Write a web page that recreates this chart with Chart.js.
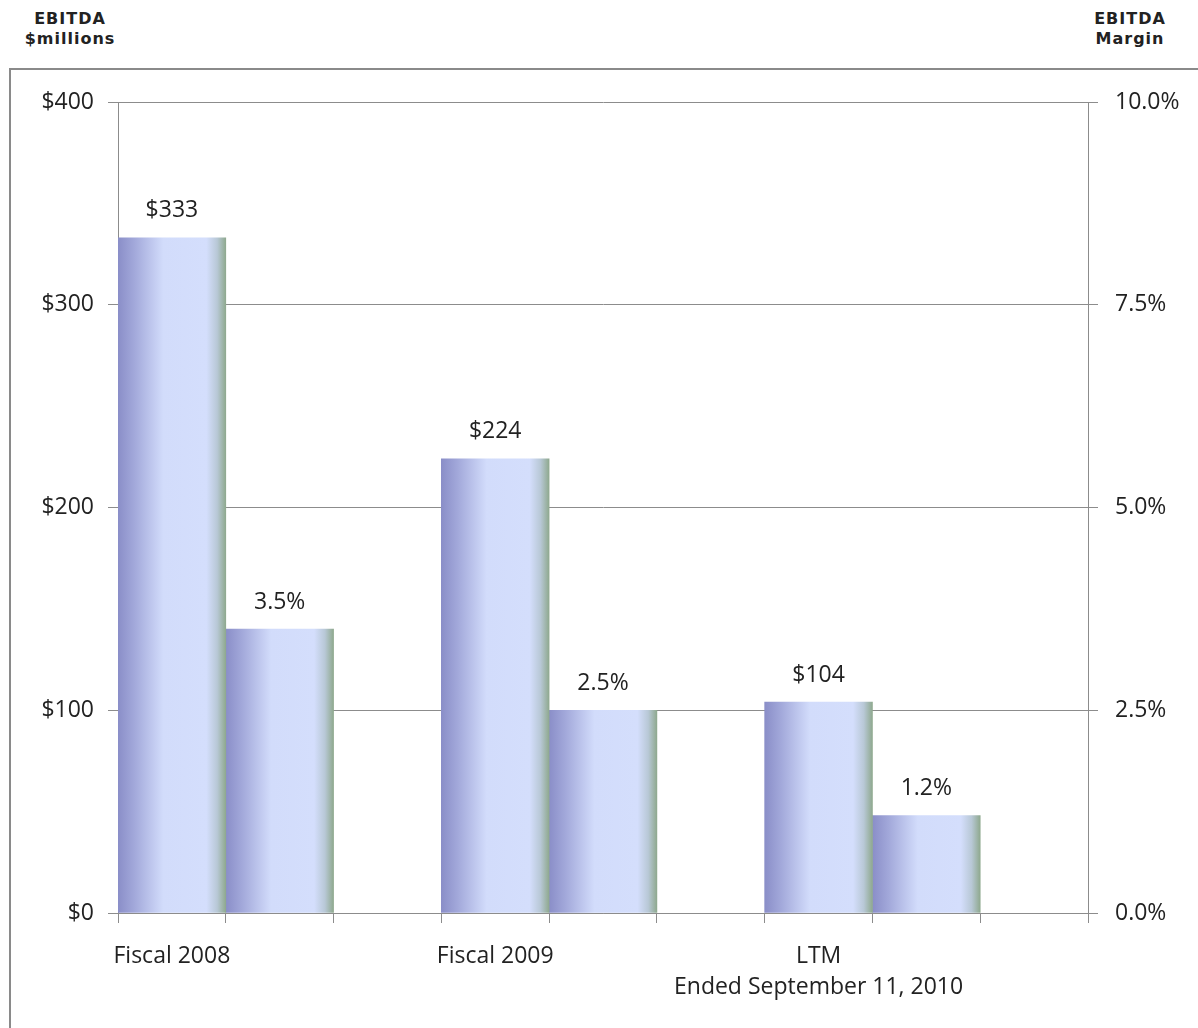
<!DOCTYPE html>
<html>
<head>
<meta charset="utf-8">
<script src="https://cdn.jsdelivr.net/npm/chart.js"></script>
<style>
    html, body { margin: 0; padding: 0; background: #fff; }
    #wrap { position: relative; width: 1198px; height: 1028px; overflow: hidden; }
    #frame { position: absolute; left: 9px; top: 68px; width: 1200px; height: 980px;
             border-top: 2px solid #8a8a8a; border-left: 2px solid #8a8a8a; }
    .head { position: absolute; top: 9px; font: bold 16px "DejaVu Sans", sans-serif;
            color: #222; text-align: center; line-height: 20px; letter-spacing: 1px; }
    canvas { position: absolute; left: 0; top: 0; }
</style>
</head>
<body>
<div id="wrap">
    <div id="frame"></div>
    <div class="head" style="left:10px;width:120px;">EBITDA<br>$millions</div>
    <div class="head" style="left:1070px;width:120px;">EBITDA<br>Margin</div>
    <canvas id="chart" width="1198" height="1028"></canvas>
</div>
<script>
const categories = ["Fiscal 2008", "Fiscal 2009", ["LTM", "Ended September 11, 2010"]];
const ebitda = [333, 224, 104];
const margin = [3.5, 2.5, 1.2];

const leftMax = 400, leftStep = 100;
const rightMax = 10, rightStep = 2.5;

// each category takes 3 slots: EBITDA bar, margin bar, empty gap
const slotLabels = [];
const ebitdaSlots = [];
const marginSlots = [];
categories.forEach((c, i) => {
    slotLabels.push(c, "", "");
    ebitdaSlots.push(ebitda[i], null, null);
    marginSlots.push(null, margin[i], null);
});

const FONT = "'Open Sans', 'Liberation Sans', sans-serif";
const FSIZE = 23;
const GRID = "#8c8c8c";

function barFill(ctx) {
    const chart = ctx.chart;
    const xs = chart.scales.x;
    if (!chart.chartArea || !xs) return "#c0c8f0";
    const cx = xs.getPixelForValue(ctx.dataIndex);
    const w = xs.width / slotLabels.length;
    const g = chart.ctx.createLinearGradient(cx - w / 2, 0, cx + w / 2, 0);
    g.addColorStop(0, "#8a8ec8");
    g.addColorStop(0.15, "#a2a8da");
    g.addColorStop(0.42, "#d2dcfb");
    g.addColorStop(0.82, "#d4defc");
    g.addColorStop(0.92, "#b8c8d6");
    g.addColorStop(1, "#8fa98f");
    return g;
}

const valueLabels = {
    id: "valueLabels",
    afterDatasetsDraw(chart) {
        const c = chart.ctx;
        c.save();
        c.font = FSIZE + "px " + FONT;
        c.fillStyle = "#222";
        c.textAlign = "center";
        c.textBaseline = "middle";
        chart.data.datasets.forEach((ds, di) => {
            chart.getDatasetMeta(di).data.forEach((bar, i) => {
                const v = ds.data[i];
                if (v == null) return;
                const txt = di === 0 ? "$" + v : v.toFixed(1) + "%";
                c.fillText(txt, bar.x, bar.y - 27);
            });
        });
        c.restore();
    }
};

new Chart(document.getElementById("chart"), {
    type: "bar",
    data: {
        labels: slotLabels,
        datasets: [
            { label: "EBITDA", data: ebitdaSlots, yAxisID: "y", backgroundColor: barFill,
              grouped: false, barPercentage: 1, categoryPercentage: 1, borderWidth: 0 },
            { label: "EBITDA Margin", data: marginSlots, yAxisID: "y1", backgroundColor: barFill,
              grouped: false, barPercentage: 1, categoryPercentage: 1, borderWidth: 0 }
        ]
    },
    options: {
        responsive: false,
        animation: false,
        layout: { padding: { top: 102, left: 0, right: 0, bottom: 0 } },
        plugins: { legend: { display: false }, tooltip: { enabled: false } },
        scales: {
            x: {
                offset: true,
                grid: { offset: true, drawOnChartArea: false, tickLength: 10, color: GRID },
                border: { color: GRID },
                ticks: { color: "#222", font: { family: FONT, size: FSIZE, lineHeight: 1.35 }, padding: 18,
                         maxRotation: 0, autoSkip: false },
                afterFit(s) { s.height = 115; }
            },
            y: {
                position: "left",
                min: 0, max: leftMax,
                grid: { color: GRID, tickLength: 10 },
                border: { color: GRID },
                ticks: { stepSize: leftStep, color: "#222", font: { family: FONT, size: FSIZE }, padding: 14,
                         callback: v => "$" + v },
                afterFit(s) { s.width = 118; }
            },
            y1: {
                position: "right",
                min: 0, max: rightMax,
                grid: { drawOnChartArea: false, color: GRID, tickLength: 10 },
                border: { color: GRID },
                ticks: { stepSize: rightStep, color: "#222", font: { family: FONT, size: FSIZE }, padding: 17,
                         callback: v => v.toFixed(1) + "%" },
                afterFit(s) { s.width = 110; }
            }
        }
    },
    plugins: [valueLabels]
});
</script>
</body>
</html>
